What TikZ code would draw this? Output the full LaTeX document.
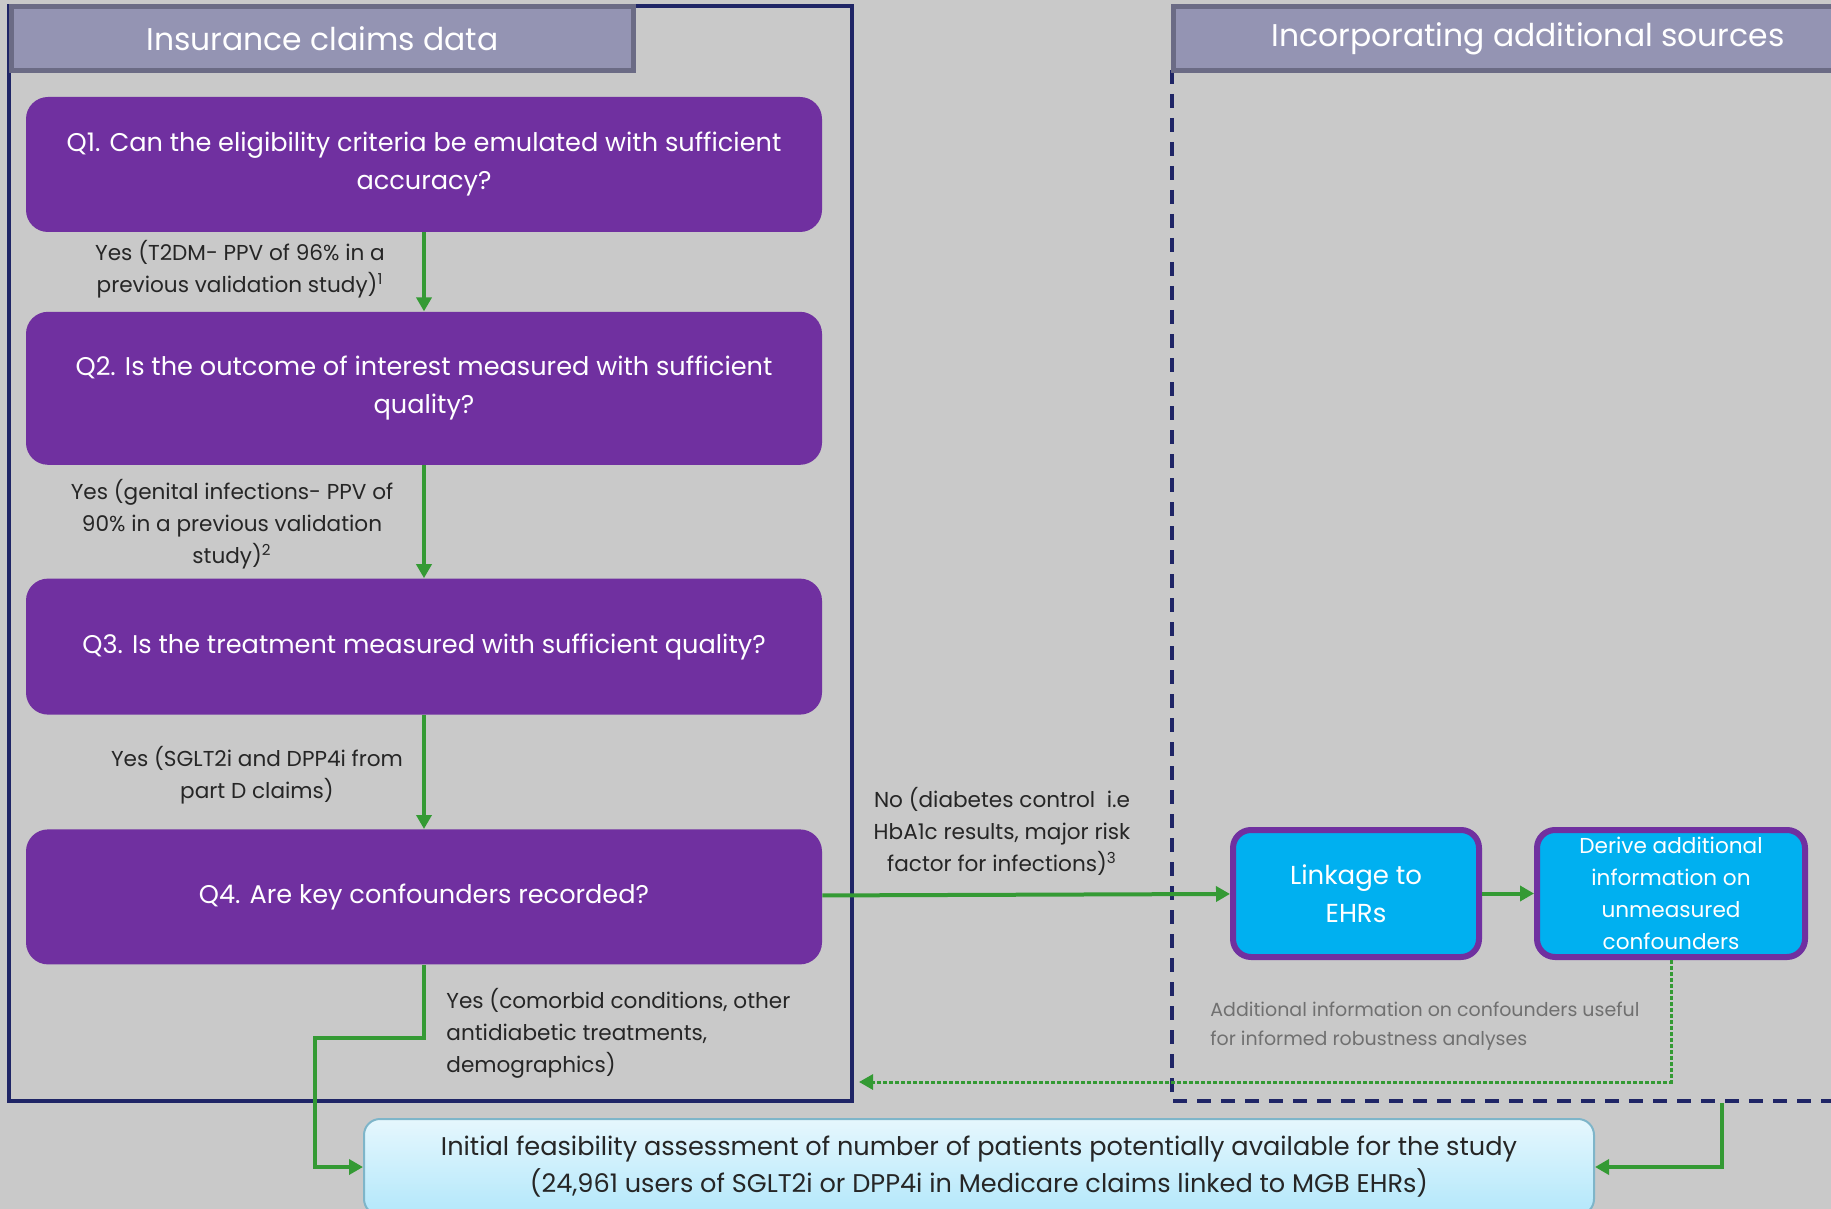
\documentclass[tikz,border=0pt]{standalone}
\usepackage{fontspec}
\setmainfont{Poppins}
\usetikzlibrary{arrows.meta, positioning, calc}
\definecolor{claimPurple}{HTML}{7030A0}
\definecolor{claimNavy}{HTML}{1F2566}
\definecolor{claimGreen}{HTML}{349A34}
\definecolor{claimCyan}{HTML}{00B0F0}
\definecolor{claimHead}{HTML}{9494B3}
\definecolor{claimHeadEdge}{HTML}{6B6B85}
\definecolor{claimBack}{HTML}{C9C9C9}
\definecolor{claimText}{HTML}{262626}
\definecolor{claimNote}{HTML}{707070}

\begin{document}
\begin{tikzpicture}[x=0.5pt, y=-0.5pt,
    header/.style={rectangle, draw=claimHeadEdge, line width=2.5pt, fill=claimHead,
                   text=white, font=\fontsize{15.7}{18}\selectfont, inner sep=0pt},
    qbox/.style={rectangle, rounded corners=11pt, fill=claimPurple, text=white,
                 minimum width=398pt, align=center,
                 font=\fontsize{12.8}{19}\selectfont, inner sep=0pt},
    ehrbox/.style={rectangle, rounded corners=9pt, draw=claimPurple, line width=3pt,
                   fill=claimCyan, text=white, align=center, inner sep=0pt,
                   minimum height=63.5pt},
    lbl/.style={align=center, text=claimText, font=\fontsize{10.8}{16}\selectfont, inner sep=0pt},
    note/.style={align=left, text=claimNote, font=\fontsize{9.5}{14.5}\selectfont, inner sep=0pt},
    flow/.style={draw=claimGreen, line width=2pt, -{Triangle[length=7pt, width=7.5pt]}},
  ]
  % background and frames
  \fill[claimBack] (0,0) rectangle (1831,1209);
  \useasboundingbox (0,0) rectangle (1831,1209);
  \draw[claimNavy, line width=1.6pt] (9,6) rectangle (852,1101);
  \draw[claimNavy, line width=1.6pt, dash pattern=on 7pt off 5pt]
    (1172,70) -- (1172,1101) -- (1840,1101);

  % headers
  \node[header, minimum width=311pt, minimum height=32pt, anchor=north west]
    (hclaims) at (9,4) {Insurance claims data};
  \node[header, minimum width=354.5pt, minimum height=32pt, anchor=north west]
    (hsources) at (1171,4) {Incorporating additional sources};

  % question chain
  \node[qbox, minimum height=67.5pt] (q1) at (424,164.5)
    {Q1. Can the eligibility criteria be emulated with sufficient\\accuracy?};
  \node[qbox, minimum height=76.5pt, below=39.5pt of q1] (q2)
    {Q2. Is the outcome of interest measured with sufficient\\quality?};
  \node[qbox, minimum height=68pt, below=56.5pt of q2] (q3)
    {Q3. Is the treatment measured with sufficient quality?};
  \node[qbox, minimum height=67.5pt, below=57pt of q3] (q4)
    {Q4. Are key confounders recorded?};

  % additional sources
  \node[ehrbox, minimum width=123pt, font=\fontsize{13}{19}\selectfont]
    (link) at (1356,893.5) {Linkage to\\EHRs};
  \node[ehrbox, minimum width=134pt, font=\fontsize{10.8}{16}\selectfont,
    right=26pt of link] (derive)
    {Derive additional\\information on\\unmeasured\\confounders};

  % final assessment
  \node[rectangle, rounded corners=8pt, draw=claimCyan!45!gray!70, line width=1pt,
    top color=claimCyan!10, bottom color=claimCyan!30, text=claimText,
    minimum width=615pt, minimum height=48pt, align=center, inner sep=0pt,
    font=\fontsize{12.8}{18.5}\selectfont] (final) at (979,1167)
    {Initial feasibility assessment of number of patients potentially available for the study\\
     (24,961 users of SGLT2i or DPP4i in Medicare claims linked to MGB EHRs)};

  % labels
  \node[lbl] (l1) at (240,269)
    {Yes (T2DM- PPV of 96\% in a\\previous validation study)\textsuperscript{1}};
  \node[lbl] (l2) at (232,524)
    {Yes (genital infections- PPV of\\90\% in a previous validation\\study)\textsuperscript{2}};
  \node[lbl] (l3) at (257,775)
    {Yes (SGLT2i and DPP4i from\\part D claims)};
  \node[lbl] (lno) at (1002,831)
    {No (diabetes control \ i.e\\HbA1c results, major risk\\factor for infections)\textsuperscript{3}};
  \node[lbl, align=left, anchor=west] (l4) at (446,1033)
    {Yes (comorbid conditions, other\\antidiabetic treatments,\\demographics)};
  \node[note, anchor=west] (lnote) at (1210,1026)
    {Additional information on confounders useful\\for informed robustness analyses};

  % connectors
  \coordinate (yesbend) at (315,1038);
  \coordinate (backtip) at (859,1082);
  \coordinate (srcout) at (1722,1103);
  \draw[flow] (q1) -- (q2);
  \draw[flow] (q2) -- (q3);
  \draw[flow] (q3) -- (q4);
  \draw[flow] (q4) -- (link);
  \draw[flow] (link) -- (derive);
  \draw[flow] (q4.south) |- (yesbend) |- (final.west);
  \draw[flow, line width=1.5pt, dash pattern=on 1.8pt off 1.2pt] (derive.south) |- (backtip);
  \draw[flow] (srcout) |- (final.east);
\end{tikzpicture}
\end{document}
